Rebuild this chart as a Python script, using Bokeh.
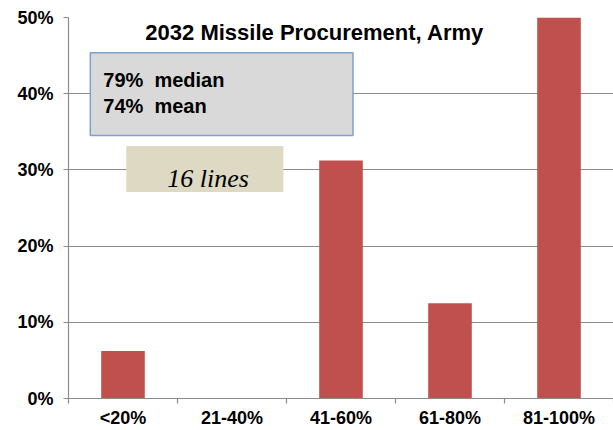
from bokeh.plotting import figure
from bokeh.models import FixedTicker, NumeralTickFormatter, Label, BoxAnnotation, Range1d, ColumnDataSource
from bokeh.embed import file_html
from bokeh.resources import INLINE

# ---- data ----
categories = ["<20%", "21-40%", "41-60%", "61-80%", "81-100%"]
shares = [0.0625, 0.0, 0.3125, 0.125, 0.5]
y_ticks = [0.0, 0.1, 0.2, 0.3, 0.4, 0.5]
title_text = "2032 Missile Procurement, Army"
stats_lines = ["79%\u00a0 median", "74%\u00a0 mean"]
count_text = "16 lines"

centers = [i + 0.5 for i in range(len(categories))]
bounds = list(range(len(categories) + 1))

GRAY = "#8c8c8c"
FONT = "Liberation Sans"

p = figure(width=613, height=430, output_backend="svg", toolbar_location=None,
           x_range=Range1d(0, len(categories)), y_range=Range1d(0, 0.5),
           min_border_left=68, min_border_right=0, min_border_top=17, min_border_bottom=31)
p.outline_line_color = None
p.background_fill_color = "white"
p.border_fill_color = "white"

src = ColumnDataSource(dict(x=centers, top=shares))
p.vbar(x="x", top="top", bottom=0, width=0.4, source=src,
       fill_color="#c0504d", line_color=None)

# grid
p.xgrid.visible = False
p.ygrid.ticker = FixedTicker(ticks=y_ticks)
p.ygrid.grid_line_color = GRAY
p.ygrid.grid_line_width = 1.2

# y axis
ya = p.yaxis[0]
ya.ticker = FixedTicker(ticks=y_ticks)
ya.formatter = NumeralTickFormatter(format="0%")
ya.axis_line_color = GRAY
ya.axis_line_width = 1.2
ya.major_tick_line_color = GRAY
ya.major_tick_line_width = 1.2
ya.major_tick_out = 5
ya.major_tick_in = 0
ya.minor_tick_line_color = None
ya.major_label_text_font = FONT
ya.major_label_text_font_style = "bold"
ya.major_label_text_font_size = "18px"
ya.major_label_text_color = "black"
ya.major_label_standoff = 10

# x axis
xa = p.xaxis[0]
xa.ticker = FixedTicker(ticks=centers, minor_ticks=bounds)
xa.major_label_overrides = {c: lab for c, lab in zip(centers, categories)}
xa.axis_line_color = GRAY
xa.axis_line_width = 1.2
xa.major_tick_line_color = None
xa.major_tick_out = 0
xa.major_tick_in = 0
xa.minor_tick_line_color = GRAY
xa.minor_tick_line_width = 1.2
xa.minor_tick_out = 5
xa.minor_tick_in = 0
xa.major_label_text_font = FONT
xa.major_label_text_font_style = "bold"
xa.major_label_text_font_size = "18px"
xa.major_label_text_color = "black"
xa.major_label_standoff = 4

# annotation boxes
p.add_layout(BoxAnnotation(left=0.20, right=2.61, bottom=0.3453, top=0.4538,
                           fill_color="#d9d9d9", fill_alpha=1.0,
                           line_color="#7f9fcf", line_width=1.5, line_alpha=1.0))
p.add_layout(BoxAnnotation(left=0.530, right=1.971, bottom=0.2711, top=0.3313,
                           fill_color="#ddd9c3", fill_alpha=1.0,
                           line_color=None))

# texts
p.add_layout(Label(x=0.705, y=0.4804, text=title_text, text_font=FONT,
                   text_font_style="bold", text_font_size="22px",
                   text_color="black", text_baseline="alphabetic"))
for line, yy in zip(stats_lines, [0.4181, 0.3845]):
    p.add_layout(Label(x=0.319, y=yy, text=line, text_font=FONT,
                       text_font_style="bold", text_font_size="20px",
                       text_color="black", text_baseline="alphabetic"))
p.add_layout(Label(x=1.28, y=0.2887, text=count_text, text_font="Liberation Serif",
                   text_font_style="italic", text_font_size="26px",
                   text_color="black", text_align="center", text_baseline="alphabetic"))

open("out.html", "w").write(file_html(p, INLINE))
